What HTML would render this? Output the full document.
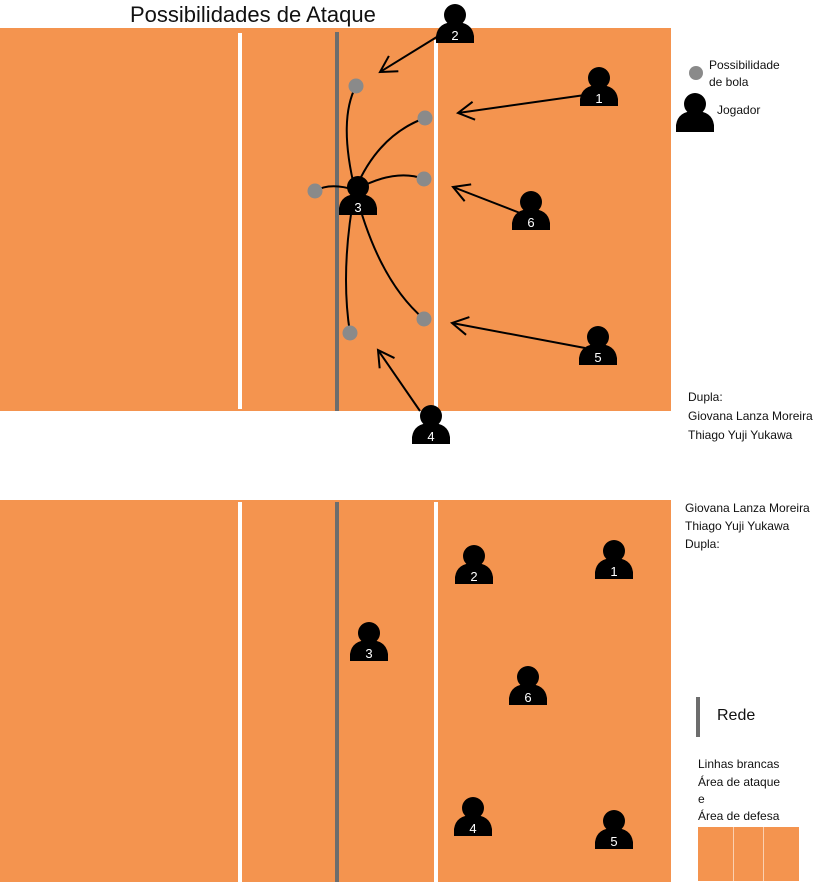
<!DOCTYPE html>
<html><head><meta charset="utf-8"><style>
html,body{margin:0;padding:0;background:#fff;}
svg{display:block;font-family:"Liberation Sans",sans-serif;}
</style></head><body>
<svg id="s" width="821" height="884" viewBox="0 0 821 884" xmlns="http://www.w3.org/2000/svg">
<defs>
<marker id="ah" markerUnits="userSpaceOnUse" markerWidth="24" markerHeight="24" refX="20" refY="12" orient="auto">
<path d="M4,3 L20,12 L4,21" fill="none" stroke="#000" stroke-width="2"/>
</marker>
</defs>
<text x="130" y="22" font-size="22" fill="#111">Possibilidades de Ataque</text>
<g>
<rect x="0" y="28" width="671" height="383" fill="#F4944F"/>
<rect x="238" y="33" width="4" height="376" fill="#fff"/>
<rect x="434" y="40" width="4" height="371" fill="#fff"/>
<rect x="335" y="32" width="4" height="379" fill="#6d6d6d"/>
</g>
<g>
<rect x="0" y="500" width="671" height="382" fill="#F4944F"/>
<rect x="238" y="502" width="4" height="380" fill="#fff"/>
<rect x="434" y="502" width="4" height="380" fill="#fff"/>
<rect x="335" y="502" width="4" height="380" fill="#6d6d6d"/>
</g>
<g id="curves" fill="none" stroke="#000" stroke-width="2"></g>
<g id="arrows" fill="none" stroke="#000" stroke-width="2"></g>
<g id="balls"></g>
<g id="players"></g>
<g font-size="12" fill="#111">
<circle cx="696" cy="73" r="7" fill="#8a8a8a"/>
<text x="709" y="69">Possibilidade</text>
<text x="709" y="86">de bola</text>
<text x="717" y="114">Jogador</text>
<text x="688" y="401">Dupla:</text>
<text x="688" y="420">Giovana Lanza Moreira</text>
<text x="688" y="439">Thiago Yuji Yukawa</text>
<text x="685" y="512">Giovana Lanza Moreira</text>
<text x="685" y="530">Thiago Yuji Yukawa</text>
<text x="685" y="548">Dupla:</text>
<rect x="696" y="697" width="4" height="40" fill="#6d6d6d"/>
<text x="717" y="720" font-size="16">Rede</text>
<text x="698" y="768">Linhas brancas</text>
<text x="698" y="786">Área de ataque</text>
<text x="698" y="803">e</text>
<text x="698" y="820">Área de defesa</text>
<rect x="698" y="827" width="101" height="54" fill="#F4944F"/>
<rect x="733" y="827" width="1" height="54" fill="#fbd0b0"/>
<rect x="763" y="827" width="1" height="54" fill="#fbd0b0"/>
</g>
</svg>
<script>
const NS="http://www.w3.org/2000/svg";
const playerNums=["1","2","3","4","5","6"];
const topPlayerX=[599,455,358,431,598,531];
const topPlayerY=[78,15,187,416,337,202];
const bottomPlayerX=[614,474,369,473,614,528];
const bottomPlayerY=[551,556,633,808,821,677];
const ballX=[356,425,424,315,424,350];
const ballY=[86,118,179,191,319,333];
const ballCtrlX=[338,378,395,330,378,340];
const ballCtrlY=[120,135,168,182,280,270];
const arrowFromX=[585,440,520,585,420];
const arrowFromY=[95,35,213,348,411];
const arrowToX=[458,380,453,452,378];
const arrowToY=[113,72,187,323,350];
function mk(t,a,p){const e=document.createElementNS(NS,t);for(const k in a)e.setAttribute(k,a[k]);p.appendChild(e);return e;}
const cg=document.getElementById('curves');
for(let i=0;i<ballX.length;i++){
 const e=mk('path',{d:`M355,190 Q${ballCtrlX[i]},${ballCtrlY[i]} ${ballX[i]},${ballY[i]}`},cg);
 
 
}
const ag=document.getElementById('arrows');
for(let i=0;i<arrowFromX.length;i++){
 const e=mk('line',{x1:arrowFromX[i],y1:arrowFromY[i],x2:arrowToX[i],y2:arrowToY[i],'marker-end':'url(#ah)'},ag);
 
 
}
const bg=document.getElementById('balls');
for(let i=0;i<ballX.length;i++){
 const e=mk('circle',{cx:ballX[i],cy:ballY[i],r:7.5,fill:'#8a8a8a'},bg);
 
 
}
const pg=document.getElementById('players');
function player(x,y,n,name){
 const g=mk('g',{},pg);
 
 
 mk('circle',{cx:x,cy:y,r:11,fill:'#000'},g);
 mk('path',{d:`M${x-19},${y+28} L${x-19},${y+21} Q${x-17},${y+7} ${x},${y+7} Q${x+17},${y+7} ${x+19},${y+21} L${x+19},${y+28} Z`,fill:'#000'},g);
 if(n){const t=mk('text',{x:x,y:y+25,'text-anchor':'middle','font-size':'13',fill:'#fff'},g);t.textContent=n;}
}
for(let i=0;i<6;i++) player(topPlayerX[i],topPlayerY[i],playerNums[i],'top-player-'+playerNums[i]);
for(let i=0;i<6;i++) player(bottomPlayerX[i],bottomPlayerY[i],playerNums[i],'bottom-player-'+playerNums[i]);
player(695,104,'','legend-player-icon');
</script>
</body></html>
